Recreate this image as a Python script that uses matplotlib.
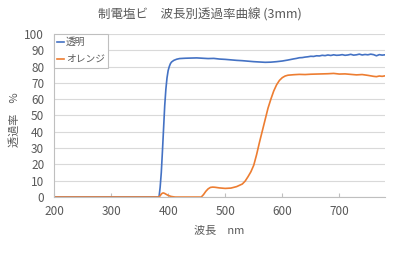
import matplotlib
matplotlib.use("Agg")
import matplotlib.pyplot as plt

plt.rcParams['font.family'] = ['Noto Sans CJK JP', 'DejaVu Sans']

title = "制電塩ビ　波長別透過率曲線 (3mm)"
xlabel = "波長　nm"
ylabel = "透過率　%"
series_names = ["透明", "オレンジ"]

clear_wl = [200, 384, 386, 388, 390, 392, 394, 396, 398, 400, 402, 404, 406, 410, 415, 420,
            430, 440, 450, 460, 470, 480, 490, 500, 510, 520, 530, 540, 550, 560, 570, 580,
            590, 600, 610, 620, 625, 630, 635, 640, 645, 650, 655, 660, 665, 670, 675, 680,
            685, 690, 695, 700, 705, 710, 715, 720, 725, 730, 735, 740, 745, 750, 755, 760,
            765, 770, 775, 780]
clear_t = [0, 0, 6, 15, 28, 42, 56, 66, 73, 77.5, 80, 81.8, 82.8, 83.8, 84.5, 84.9,
           85.1, 85.2, 85.3, 85.1, 84.9, 85.0, 84.6, 84.4, 84.1, 83.8, 83.6, 83.3, 83.0, 82.8, 82.6, 82.7,
           83.0, 83.4, 84.0, 84.7, 85.0, 85.4, 85.5, 85.8, 86.0, 86.3, 86.2, 86.6, 86.5, 86.9, 86.7, 87.1,
           86.8, 87.2, 86.9, 87.0, 87.3, 86.9, 87.1, 87.5, 87.0, 87.2, 87.6, 87.1, 87.4, 87.2, 87.6, 87.3,
           86.6, 87.3, 87.0, 87.2]

orange_wl = [200, 384, 386, 388, 390, 392, 394, 396, 400, 405, 410, 413, 458, 462, 466, 470,
             474, 478, 482, 490, 500, 510, 520, 530, 535, 540, 545, 550, 555, 560, 565, 570,
             575, 580, 585, 590, 595, 600, 605, 610, 620, 630, 640, 650, 660, 670, 680, 690,
             700, 710, 720, 730, 740, 750, 755, 760, 765, 770, 775, 780]
orange_t = [0, 0, 0.8, 1.8, 2.4, 2.5, 2.2, 1.8, 1.0, 0.4, 0.1, 0, 0, 1.5, 3.5, 5.0,
            5.9, 6.1, 6.0, 5.6, 5.3, 5.5, 6.4, 8.0, 9.8, 12.5, 15.5, 19.5, 26, 33.5, 40.5, 47.5,
            54.5, 60, 65, 68.8, 71.5, 73.2, 74.2, 74.7, 75.0, 75.2, 75.1, 75.3, 75.4, 75.5, 75.6, 75.8,
            75.4, 75.5, 75.2, 74.9, 75.1, 74.6, 74.3, 74.0, 73.8, 74.2, 74.0, 74.3]

BLUE = "#4472C4"
ORANGE = "#ED7D31"
TXT = "#595959"
GRID = "#D9D9D9"

fig = plt.figure(figsize=(4.0, 2.61), dpi=100)
ax = fig.add_axes([0.135, 0.245, 0.8275, 0.625])

ax.plot(clear_wl, clear_t, color=BLUE, lw=1.2, label=series_names[0])
ax.plot(orange_wl, orange_t, color=ORANGE, lw=1.2, label=series_names[1])

ax.set_xlim(200, 780)
ax.set_ylim(0, 100)
ax.set_xticks(range(200, 701, 100))
ax.set_yticks(range(0, 101, 10))
ax.grid(axis='y', color=GRID, lw=0.8)
ax.set_axisbelow(True)
for s in ['top', 'right']:
    ax.spines[s].set_visible(False)
for s in ['left', 'bottom']:
    ax.spines[s].set_color("#BFBFBF")
    ax.spines[s].set_linewidth(0.8)
ax.tick_params(axis='y', length=0, labelsize=8.5, colors=TXT, pad=7)
ax.tick_params(axis='x', direction='in', length=3, color="#BFBFBF", labelsize=8.5, labelcolor=TXT, pad=6)

fig.text(0.5, 1 - 15 / 261, title, fontsize=9, color=TXT, ha='center', va='center')
ax.set_xlabel(xlabel, fontsize=8, color=TXT, labelpad=5)
fig.text(15 / 400, 1 - 120 / 261, ylabel, fontsize=8, color=TXT, rotation=90,
         ha='center', va='center')

leg = ax.legend(loc='upper left', bbox_to_anchor=(0.0, 1.0), fontsize=7, frameon=True,
                fancybox=False, edgecolor="#BFBFBF", framealpha=1, handlelength=0.7,
                handletextpad=0.15, borderpad=0.35, labelspacing=0.7, borderaxespad=0)
for t in leg.get_texts():
    t.set_color(TXT)
leg.get_frame().set_linewidth(0.8)

fig.savefig("out.png", dpi=100)
